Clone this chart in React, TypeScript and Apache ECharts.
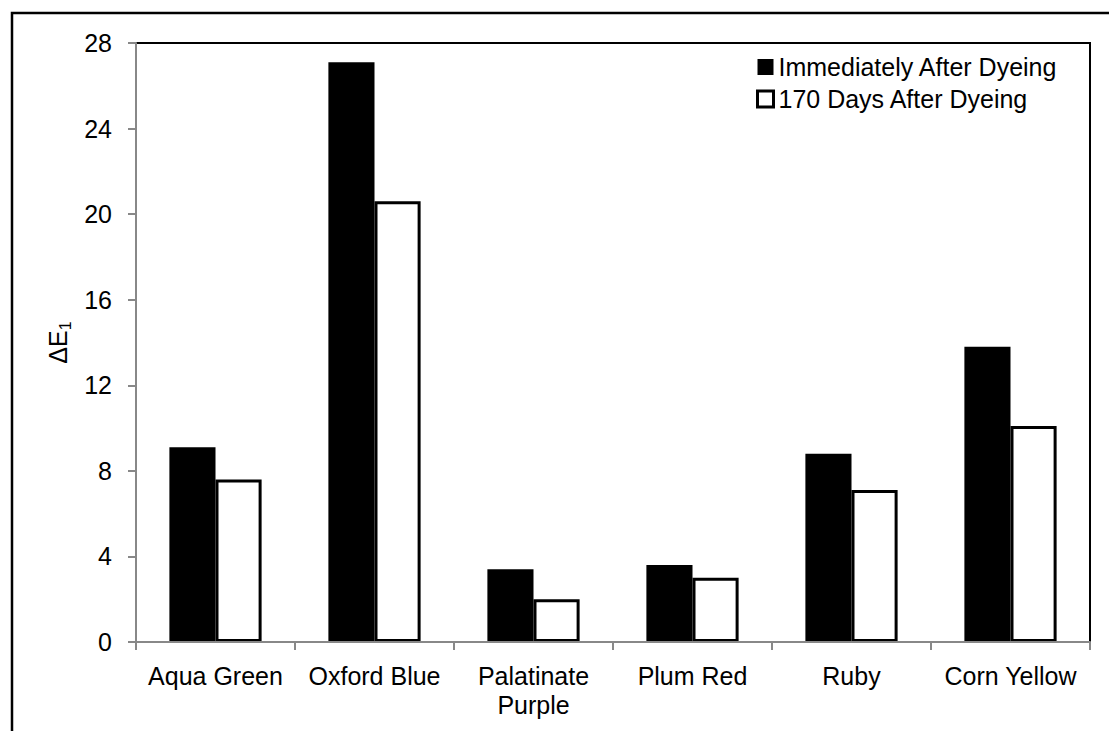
import React, { useEffect, useRef } from "react";
import * as echarts from "echarts";

const categories = ["Aqua Green", "Oxford Blue", "Palatinate\nPurple", "Plum Red", "Ruby", "Corn Yellow"];
const immediateValues = [9.1, 27.1, 3.4, 3.6, 8.8, 13.8];
const after170Values = [7.6, 20.6, 2.0, 3.0, 7.1, 10.1];
const seriesNames = ["Immediately After Dyeing", "170 Days After Dyeing"];
const yMin = 0;
const yMax = 28;
const yInterval = 4;

const FONT = "'Liberation Sans', Arial, sans-serif";
const FS = 25;

export default function App() {
  const ref = useRef<HTMLDivElement>(null);
  useEffect(() => {
    if (!ref.current) return;
    const chart = echarts.init(ref.current, null, { renderer: "svg" });
    chart.setOption({
      animation: false,
      backgroundColor: "#ffffff",
      textStyle: { fontFamily: FONT },
      grid: {
        left: 136,
        top: 43,
        right: 19,
        bottom: 89,
        show: true,
        borderColor: "#000000",
        borderWidth: 2,
        backgroundColor: "transparent",
      },
      legend: {
        orient: "vertical",
        left: 756,
        top: 54,
        padding: 0,
        itemWidth: 16,
        itemHeight: 16,
        itemGap: 6,
        textStyle: { fontFamily: FONT, fontSize: FS, color: "#000", lineHeight: 26 },
        data: [
          { name: seriesNames[0], icon: "rect", itemStyle: { color: "#000", borderWidth: 0 } },
          { name: seriesNames[1], icon: "rect", itemStyle: { color: "#fff", borderColor: "#000", borderWidth: 3 } },
        ],
      },
      xAxis: {
        type: "category",
        data: categories,
        z: 10,
        axisLine: { lineStyle: { color: "#888888", width: 2 } },
        axisTick: { show: true, length: 8, lineStyle: { color: "#888888", width: 2 } },
        axisLabel: { fontFamily: FONT, fontSize: FS, color: "#000", margin: 19, lineHeight: 29, interval: 0 },
        splitLine: { show: false },
      },
      yAxis: {
        type: "value",
        min: yMin,
        max: yMax,
        interval: yInterval,
        z: 10,
        name: "{a|ΔE}{b|1}",
        nameLocation: "middle",
        nameRotate: 90,
        nameGap: 63,
        nameTextStyle: {
          rich: {
            a: { fontFamily: FONT, fontSize: FS, color: "#000", lineHeight: 30, verticalAlign: "middle" },
            b: { fontFamily: FONT, fontSize: 16, color: "#000", lineHeight: 30, verticalAlign: "bottom", padding: [8, 0, 0, 0] },
          },
        },
        axisLine: { show: true, lineStyle: { color: "#888888", width: 2 } },
        axisTick: { show: true, length: 8, lineStyle: { color: "#888888", width: 2 } },
        axisLabel: { fontFamily: FONT, fontSize: FS, color: "#000", margin: 24 },
        splitLine: { show: false },
      },
      series: [
        {
          name: seriesNames[0],
          type: "bar",
          data: immediateValues,
          barGap: "0%",
          barCategoryGap: "42%",
          itemStyle: { color: "#000000" },
        },
        {
          name: seriesNames[1],
          type: "bar",
          data: after170Values,
          barGap: "0%",
          barCategoryGap: "42%",
          itemStyle: { color: "#ffffff", borderColor: "#000000", borderWidth: 3 },
        },
      ],
      graphic: [
        {
          type: "rect",
          shape: { x: 12, y: 13, width: 1120, height: 760 },
          style: { fill: "none", stroke: "#000", lineWidth: 2.5 },
          silent: true,
          z: 100,
        },
      ],
    });
    return () => chart.dispose();
  }, []);
  return (
    <div
      ref={ref}
      style={{ position: "fixed", left: 0, top: 0, width: 1109, height: 731 }}
    />
  );
}
